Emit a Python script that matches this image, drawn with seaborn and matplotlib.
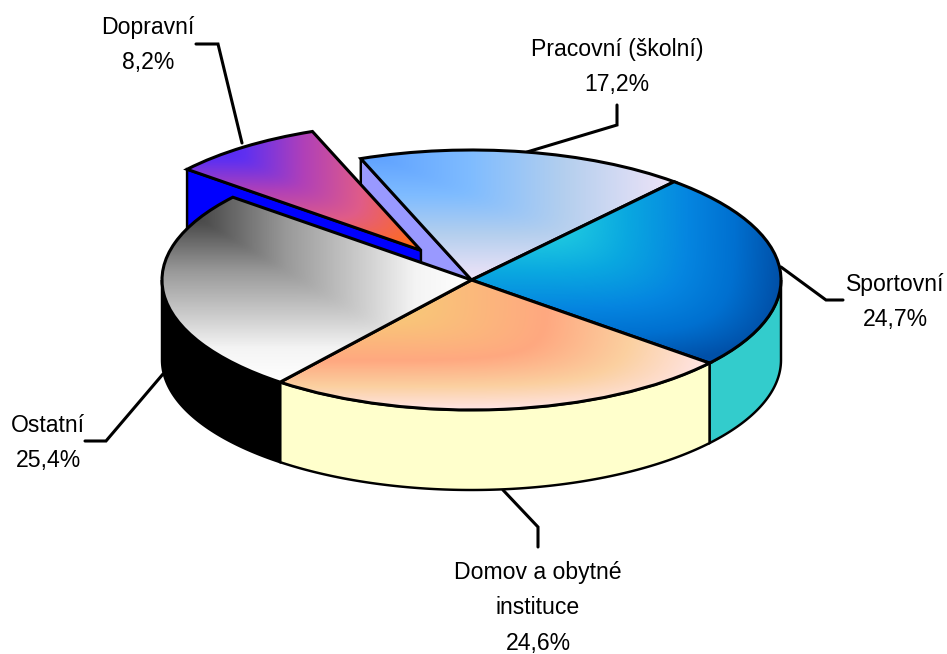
"""Exploded 3D-look pie of injury places, built on ax.pie with a squashed axes."""

import matplotlib

matplotlib.use("Agg")

import matplotlib.pyplot as plt
import numpy as np
import seaborn as sns
from matplotlib.colors import LinearSegmentedColormap

sns.set_theme(style="white")
plt.rcParams["font.family"] = ["Liberation Sans", "DejaVu Sans"]

# clockwise from the top right, same order as the wedges
places = ["Sportovní", "Domov a obytné\ninstituce", "Ostatní", "Dopravní", "Pracovní (školní)"]
shares = [24.7, 24.6, 25.4, 8.2, 17.2]
share_labels = ["24,7%", "24,6%", "25,4%", "8,2%", "17,2%"]
explode = [0, 0, 0, 0.28, 0]

side_colors = ["#33cccc", "#ffffcc", "#000000", "#0000ff", "#9999ff"]

# gradient stops (level, colour) of each top face
sport_stops = [(0, "#20d0e0"), (0.3, "#20cce0"), (0.5, "#0aa8e0"), (0.7, "#0585e0"), (0.85, "#0070d0"), (1, "#0050a8")]
home_stops = [(0, "#ffe4e4"), (0.3, "#f8c878"), (0.62, "#ffa880"), (0.82, "#fbd0a0"), (1, "#ffe4e4")]
other_stops = [(0, "#303030"), (0.15, "#505050"), (0.4, "#999999"), (0.66, "#d0d0d0"), (0.82, "#f4f4f4"), (1, "#ffffff")]
traffic_stops = [(0, "#4020ff"), (0.25, "#6030f0"), (0.5, "#b040b8"), (0.75, "#e05c88"), (1, "#ff6a20")]
work_stops = [(0, "#5a9eff"), (0.35, "#7fbcff"), (0.65, "#b4cfee"), (1, "#f0e4f8")]
face_stops = [sport_stops, home_stops, other_stops, traffic_stops, work_stops]
# how hard the diagonal crease of each gradient is, higher is sharper
crease = [6, 6, 30, 12, 12]

# back to front, so the Ostatní face hides the blue cut of Dopravní
draw_order = [4, 3, 0, 1, 2]

W, H = 947, 654
CX, CY, RX, RY = 471.5, 280, 309.5, 130
DEPTH = 80 / RY
START_ANGLE = 49.1
LW = 2.2


def px(x, y):
    """Pixel position in the picture to pie coordinates."""
    return (x - CX) / RX, (CY - y) / RY


fig = plt.figure(figsize=(W / 100, H / 100), dpi=100)
ax = fig.add_axes([0, 0, 1, 1])

wedges, _ = ax.pie(
    shares,
    explode=explode,
    startangle=START_ANGLE,
    counterclock=False,
    radius=1,
    wedgeprops={"facecolor": "none", "edgecolor": "black", "linewidth": LW, "joinstyle": "miter"},
)
# the pulled out slice is a touch smaller in the original
wedges[3].set_radius(0.98)


def add_wall(xs, ys, color, zorder):
    xs = np.concatenate([xs, xs[::-1]])
    ys = np.concatenate([ys, ys[::-1] - DEPTH])
    ax.fill(xs, ys, facecolor=color, edgecolor="black", linewidth=LW * 0.8, zorder=zorder)


for z, i in enumerate(draw_order):
    wedge = wedges[i]
    base = 10 * (z + 1)
    cx, cy = wedge.center
    r = wedge.r
    t1, t2 = wedge.theta1, wedge.theta2

    # rim of the disc, only its front half is seen
    a, b = max(t1, -180), min(t2, 0)
    if a < b:
        theta = np.radians(np.linspace(a, b, 120))
        add_wall(cx + r * np.cos(theta), cy + r * np.sin(theta), side_colors[i], base)

    # cut faces that look towards the viewer, both on the left edge of the slice
    if places[i] == "Dopravní" or places[i].startswith("Pracovní"):
        rad = np.radians(t2)
        add_wall(np.array([cx + r * np.cos(rad), cx]), np.array([cy + r * np.sin(rad), cy]), side_colors[i], base)

    # gradient grows from the top left corner of the bounding box
    box = wedge.get_path().get_extents()
    gx, gy = np.meshgrid(np.linspace(0, 1, 400), np.linspace(0, 1, 300))
    p = crease[i]
    level = np.clip((gx**p + gy**p) ** (1 / p), 0, 1)
    cmap = LinearSegmentedColormap.from_list(f"face{i}", face_stops[i])
    img = ax.imshow(
        level,
        cmap=cmap,
        vmin=0,
        vmax=1,
        extent=(box.x0, box.x1, box.y0, box.y1),
        origin="upper",
        aspect="auto",
        interpolation="bilinear",
        zorder=base + 1,
    )
    img.set_clip_path(wedge)
    wedge.set_zorder(base + 2)

# leader lines and labels, picture pixels
leaders = [
    [(781, 267), (826, 300), (843, 300)],
    [(503, 490), (538, 527), (538, 547)],
    [(163, 374), (106, 441), (85, 441)],
    [(242, 143), (218, 44), (196, 44)],
    [(527, 152), (617, 125), (617, 105)],
]
label_pos = [(895, 302), (538, 608), (48, 443), (148, 45), (617, 67)]

for i, line in enumerate(leaders):
    xs, ys = zip(*[px(*p) for p in line])
    ax.plot(xs, ys, color="black", lw=LW, solid_joinstyle="miter", zorder=5)
    lx, ly = px(*label_pos[i])
    ax.text(
        lx, ly, f"{places[i]}\n{share_labels[i]}",
        ha="center", va="center", fontsize=16.6, linespacing=1.7, color="black", zorder=100,
    )

ax.set_aspect("auto")
x0, y1 = px(0, 0)
x1, y0 = px(W, H)
ax.set_xlim(x0, x1)
ax.set_ylim(y0, y1)
ax.axis("off")

fig.savefig("out.png", dpi=100, facecolor="white")
plt.close(fig)
